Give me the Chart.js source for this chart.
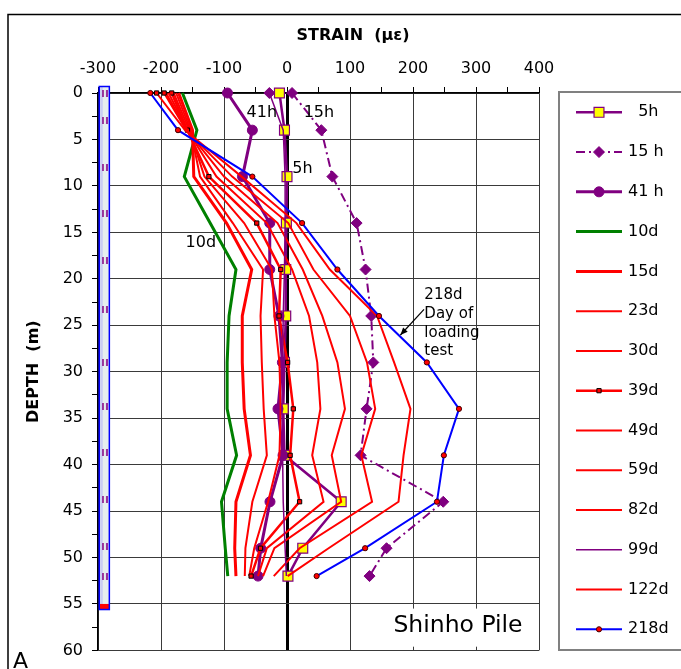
<!DOCTYPE html>
<html><head><meta charset="utf-8">
<script src="https://cdn.jsdelivr.net/npm/chart.js@4.4.0/dist/chart.umd.min.js"></script>
<style>html,body{margin:0;padding:0;background:#fff;overflow:hidden}</style>
</head><body>
<canvas id="c" width="681" height="669"></canvas>
<script>
// ---------- data ----------
const depths = [0, 4, 9, 14, 19, 24, 29, 34, 39, 44, 49, 52];
const xTicks = [-300, -200, -100, 0, 100, 200, 300, 400];
const yTicks = [0, 5, 10, 15, 20, 25, 30, 35, 40, 45, 50, 55, 60];
const seriesNames = ['  5h', '15 h', '41 h', '10d', '15d', '23d', '30d', '39d', '49d', '59d', '82d', '99d', '122d', '218d'];
const s5h   = [-12, -4, 0, -1, -2, -2, -4, -6, -4, 86, 25, 1.5];
const s15h  = [8, 54.5, 72, 110.5, 124.7, 133.7, 137, 126.3, 116.8, 248, 158, 131];
const s41h  = [-94.5, -55, -70.7, -27.4, -27.4, -12.7, -7.3, -14.3, -6.3, -27, -41.7, -46];
const s10d  = [-166, -143, -163, -122, -81, -92, -95, -95, -80, -104, -98, -94];
const s15d  = [-172, -150, -148, -96, -56, -71, -71, -68, -58, -81, -83, -81];
const s23d  = [-176, -153, -138, -86, -38, -42, -40, -37, -32, -55, -66, -67];
const s30d  = [-180, -155, -131, -68, -24, -20, -12, -10, -12, -30, -52, -60];
const s39d  = [-183, -158, -124, -48, -10, -12.6, 1, 10, 5, 20, -42, -57];
const s49d  = [-188, -158, -112, -32, 8, 35, 48, 53, 40, 58, -32, -46];
const s59d  = [-192, -159, -100, -15, 25, 56, 80, 92, 71, 86, -20, -38];
const s82d  = [-195, -160, -87, 2, 42, 100, 127, 140, 118, 135, 20, -21];
const s99d  = [-28, -6, -3, -3, -4, -6, -7, -8, -7, -6, -3, -1];
const s122d = [-207, -162, -72, 15, 68, 143, 170, 196, 185, 177, 66, 1];
const s218d = [-217, -173, -55, 24, 80, 146, 222, 273, 249, 238, 124, 47];
const pileMarkDepths = [0, 3, 8, 13, 18, 23.3, 29, 33.7, 38.7, 43.8, 48.8, 52];
const pileMarkStrain = -289;
const pileLeft = -298, pileRight = -282, pileTop = -0.7, pileBottom = 55.6, pileTipTop = 55;

// ---------- styles ----------
const PURPLE = '#800080', RED = '#ff0000', GREEN = '#008000', BLUE = '#0000ff';
const FONT = '"DejaVu Sans", "Liberation Sans", sans-serif';
const firstOnly = r => depths.map((d, i) => i === 0 ? r : 0);
const series = [
  {data: s5h,  color: PURPLE, width: 2.5, style: 'rect', radius: 7, bg: '#ffff00', pbc: PURPLE, bw: 1.2, lm: true},
  {data: s15h, color: PURPLE, width: 2, dash: [9, 4, 2, 4], style: 'rectRot', radius: 5.5, bg: PURPLE, pbc: PURPLE, bw: 1, lm: true},
  {data: s41h, color: PURPLE, width: 3, style: 'circle', radius: 5, bg: PURPLE, pbc: PURPLE, bw: 1, lm: true},
  {data: s10d, color: GREEN, width: 3},
  {data: s15d, color: RED, width: 3},
  {data: s23d, color: RED, width: 2},
  {data: s30d, color: RED, width: 2},
  {data: s39d, color: RED, width: 2.5, style: 'rect', radius: 3, bg: RED, pbc: '#000', bw: 1, lm: true},
  {data: s49d, color: RED, width: 2},
  {data: s59d, color: RED, width: 2},
  {data: s82d, color: RED, width: 2, style: 'rect', radius: firstOnly(3), bg: RED, pbc: '#000', bw: 1},
  {data: s99d, color: PURPLE, width: 1.5, style: 'rectRot', radius: firstOnly(5.5), bg: PURPLE, pbc: PURPLE, bw: 1},
  {data: s122d, color: RED, width: 2, style: 'rect', radius: firstOnly(3), bg: RED, pbc: '#000', bw: 1},
  {data: s218d, color: BLUE, width: 2, style: 'circle', radius: 2.6, bg: RED, pbc: '#400000', bw: 1, lm: true}
];
series.forEach((s, i) => s.name = seriesNames[i]);

const markImg = document.createElement('canvas');
markImg.width = 6; markImg.height = 7;
(() => { const m = markImg.getContext('2d'); m.fillStyle = '#993399'; m.fillRect(0, 0, 2, 7); m.fillRect(4, 0, 2, 7); })();

const datasets = series.map((s, i) => ({
  label: s.name,
  data: s.data.map((v, k) => ({x: v, y: depths[k]})),
  borderColor: s.color, borderWidth: s.width, borderDash: s.dash || [],
  pointStyle: s.style || 'circle', pointRadius: s.radius || 0,
  pointBackgroundColor: s.bg || s.color, pointBorderColor: s.pbc || s.color, pointBorderWidth: s.bw || 1,
  pointHoverRadius: 0, fill: false, tension: 0, clip: false, order: 100 - i
}));
datasets.push({
  label: 'pile gauges',
  data: pileMarkDepths.map(d => ({x: pileMarkStrain, y: d})),
  showLine: false, pointStyle: markImg, pointRadius: 4, clip: false, order: 0
});

const isMult = (v, m) => Math.abs(v / m - Math.round(v / m)) < 1e-6;

const deco = {
  id: 'deco',
  beforeDraw(chart) {
    const ctx = chart.ctx;
    ctx.save(); ctx.fillStyle = '#fff'; ctx.fillRect(0, 0, chart.width, chart.height); ctx.restore();
  },
  beforeDatasetsDraw(chart) {
    const ctx = chart.ctx, xs = chart.scales.x, ys = chart.scales.y;
    ctx.save();
    // white box behind the pile name
    const bx = xs.getPixelForValue(158), by1 = ys.getPixelForValue(55.5), by2 = ys.getPixelForValue(59.6);
    ctx.fillStyle = '#fff';
    ctx.fillRect(bx, by1, xs.getPixelForValue(399.5) - bx, by2 - by1);
    // pile
    const l = xs.getPixelForValue(pileLeft), r = xs.getPixelForValue(pileRight);
    const t = ys.getPixelForValue(pileTop), b = ys.getPixelForValue(pileBottom), bt = ys.getPixelForValue(pileTipTop);
    ctx.fillStyle = '#e6eeee'; ctx.fillRect(l, t, r - l, b - t);
    ctx.fillStyle = '#c9cdf3'; ctx.fillRect(l + 1, t, 2.5, b - t);
    ctx.fillStyle = RED; ctx.fillRect(l, bt, r - l, b - bt);
    ctx.strokeStyle = BLUE; ctx.lineWidth = 1.5; ctx.strokeRect(l, t, r - l, b - t);
    ctx.restore();
  },
  afterDatasetsDraw(chart) {
    const ctx = chart.ctx, xs = chart.scales.x, ys = chart.scales.y;
    const P = (v, d) => [xs.getPixelForValue(v), ys.getPixelForValue(d)];
    ctx.save();
    ctx.fillStyle = '#000';
    ctx.textBaseline = 'middle';
    // axis title
    ctx.font = 'bold 16px ' + FONT; ctx.textAlign = 'center';
    ctx.fillText('STRAIN  (με)', 353, 36);
    // curve labels
    ctx.font = '16px ' + FONT;
    [['41h', -40, 2.1], ['15h', 50.7, 2.1], ['5h', 24.4, 8.2], ['10d', -136.8, 16.1]].forEach(([t, v, d]) => {
      const [x, y] = P(v, d); ctx.fillText(t, x, y);
    });
    // 218d note
    ctx.font = '15px ' + FONT; ctx.textAlign = 'left';
    const [nx, ny] = P(218, 21.75);
    ['218d', 'Day of', 'loading', 'test'].forEach((t, i) => ctx.fillText(t, nx, ny + i * 18.8));
    const [ax1, ay1] = P(217.5, 23.3), [ax2, ay2] = P(180, 26.05);
    ctx.strokeStyle = '#000'; ctx.lineWidth = 1.2;
    ctx.beginPath(); ctx.moveTo(ax1, ay1); ctx.lineTo(ax2, ay2); ctx.stroke();
    const ang = Math.atan2(ay2 - ay1, ax2 - ax1), L = 8;
    ctx.beginPath(); ctx.moveTo(ax2, ay2);
    ctx.lineTo(ax2 - L * Math.cos(ang - 0.4), ay2 - L * Math.sin(ang - 0.4));
    ctx.lineTo(ax2 - L * Math.cos(ang + 0.4), ay2 - L * Math.sin(ang + 0.4));
    ctx.closePath(); ctx.fill();
    // pile name
    ctx.font = '23.5px ' + FONT;
    const [px, py] = P(168.9, 57.4);
    ctx.fillText('Shinho Pile', px, py);
    // panel letter
    ctx.font = '22px ' + FONT; ctx.textBaseline = 'alphabetic';
    ctx.fillText('A', 13, 668);
    // outer frame
    ctx.strokeStyle = '#000'; ctx.lineWidth = 1.5;
    ctx.strokeRect(8, 14.5, 700, 700);
    // legend
    ctx.strokeStyle = '#808080'; ctx.lineWidth = 2;
    ctx.strokeRect(559, 92, 140, 558);
    const y0 = 112.3, dy = 39.77;
    series.forEach((s, i) => {
      const y = y0 + i * dy;
      ctx.save();
      ctx.strokeStyle = s.color; ctx.lineWidth = s.width; ctx.setLineDash(s.dash || []);
      ctx.beginPath(); ctx.moveTo(576, y); ctx.lineTo(622, y); ctx.stroke();
      ctx.restore();
      if (s.lm) {
        ctx.save();
        ctx.fillStyle = s.bg; ctx.strokeStyle = s.pbc; ctx.lineWidth = s.bw;
        Chart.helpers.drawPoint(ctx, {pointStyle: s.style, radius: s.radius, borderWidth: s.bw, rotation: 0}, 599, y);
        ctx.restore();
      }
      ctx.fillStyle = '#000'; ctx.font = '16px ' + FONT; ctx.textBaseline = 'middle'; ctx.textAlign = 'left';
      ctx.fillText(s.name, 628, y);
    });
    ctx.restore();
  }
};

Chart.defaults.font.family = FONT;
Chart.defaults.font.size = 16;
Chart.defaults.color = '#000';

new Chart(document.getElementById('c'), {
  type: 'line',
  data: {datasets},
  plugins: [deco],
  options: {
    responsive: false, animation: false, devicePixelRatio: 1,
    layout: {padding: {left: 0, top: 0, right: 142, bottom: 18.5}},
    plugins: {legend: {display: false}, tooltip: {enabled: false}, title: {display: false}},
    events: [],
    scales: {
      x: {
        type: 'linear', position: 'top', min: -300, max: 400,
        afterFit: s => { s.height = 93; },
        ticks: {stepSize: 50, autoSkip: false, maxRotation: 0, padding: 9,
                callback: v => xTicks.includes(Math.round(v)) && isMult(v, 100) ? String(Math.round(v)) : ''},
        grid: {
          color: c => c.tick && isMult(c.tick.value, 100) ? (c.tick.value === 0 ? '#000' : '#3a3a3a') : 'rgba(0,0,0,0)',
          lineWidth: c => c.tick && c.tick.value === 0 ? 3 : 1,
          tickColor: '#000', tickWidth: 1, tickLength: 6, drawTicks: true
        },
        border: {display: true, color: '#000', width: 1.5}
      },
      y: {
        type: 'linear', position: 'left', min: 0, max: 60, reverse: true,
        afterFit: s => { s.width = 98; },
        title: {display: true, text: 'DEPTH  (m)', font: {weight: 'bold', size: 16}, padding: {top: 24, bottom: 0}},
        ticks: {stepSize: 2.5, autoSkip: false, padding: 9,
                callback: v => isMult(v, 5) && yTicks.includes(Math.round(v)) ? String(Math.round(v)) : ''},
        grid: {
          color: c => c.tick && isMult(c.tick.value, 5) ? '#3a3a3a' : 'rgba(0,0,0,0)',
          tickColor: '#000', tickWidth: 1, tickLength: 6, drawTicks: true
        },
        border: {display: true, color: '#000', width: 1.5}
      }
    }
  }
});
</script>
</body></html>
